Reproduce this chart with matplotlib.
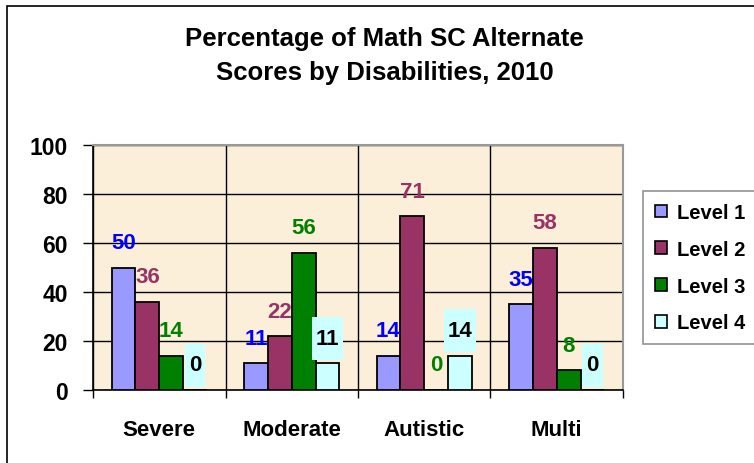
import matplotlib
matplotlib.use("Agg")
import matplotlib.pyplot as plt
import numpy as np
from matplotlib.path import Path
from matplotlib.patches import Rectangle, Patch

categories = ["Severe", "Moderate", "Autistic", "Multi"]
level1 = [50, 11, 14, 35]
level2 = [36, 22, 71, 58]
level3 = [14, 56, 0, 8]
level4 = [0, 11, 14, 0]
series_names = ["Level 1", "Level 2", "Level 3", "Level 4"]
yticks = [0, 20, 40, 60, 80, 100]
title = "Percentage of Math SC Alternate\nScores by Disabilities, 2010"

bar_colors = ["#9999FF", "#993366", "#008000", "#CCFFFF"]
label_colors = ["#0000FF", "#993366", "#008000", "#000000"]

plt.rcParams['font.family'] = ['Liberation Sans', 'DejaVu Sans']
plt.rcParams['font.weight'] = 'bold'

fig = plt.figure(figsize=(7.54, 4.64), dpi=100)
fig.patch.set_facecolor('white')
# outer chart border
fig.patches.append(Rectangle((7/754, -0.1), 1.2, 1 - 7/464 + 0.1, transform=fig.transFigure,
                             fill=False, edgecolor='black', linewidth=1.2))

ax = fig.add_axes([93/754, 1 - 391/464, (623 - 93)/754, (391 - 146)/464])
ax.set_facecolor('#FBEFD9')

x = np.arange(len(categories))
w = 0.18
data = [level1, level2, level3, level4]
offsets = [-1.5, -0.5, 0.5, 1.5]

def tallbox(x0, y0, width, height, mutation_size):
    padx = 4.0
    pady = 11.0
    xa, ya = x0 - padx, y0 - pady
    xb, yb = x0 + width + padx, y0 + height + pady
    return Path([(xa, ya), (xb, ya), (xb, yb), (xa, yb), (xa, ya)],
                [Path.MOVETO, Path.LINETO, Path.LINETO, Path.LINETO, Path.CLOSEPOLY])

for i, vals in enumerate(data):
    xs = x + offsets[i] * w
    ax.bar(xs, vals, width=w, color=bar_colors[i], edgecolor='black', linewidth=1.3, zorder=3)
    for xi, v in zip(xs, vals):
        kw = {}
        if i == 3:
            kw['bbox'] = dict(boxstyle=tallbox, facecolor='#CCFFFF', edgecolor='none')
        ax.annotate(f"{v}", (xi, v), xytext=(0, 25), textcoords='offset pixels',
                    ha='center', va='center', fontsize=16, fontweight='bold',
                    color=label_colors[i], zorder=5, **kw)

ax.set_xlim(-0.5, len(categories) - 0.5)
ax.set_ylim(0, 100)
ax.set_yticks(yticks)
ax.set_yticklabels([str(t) for t in yticks], fontsize=16.5, fontweight='bold')
ax.set_xticks(x)
ax.set_xticklabels(categories, fontsize=16, fontweight='bold')
ax.tick_params(axis='x', length=0, pad=21)
ax.set_xticks(np.arange(-0.5, len(categories)), minor=True)
ax.tick_params(axis='x', which='minor', length=6, width=1, direction='out')
ax.tick_params(axis='y', length=7, width=1, direction='out', pad=11)

ax.grid(axis='y', color='black', linewidth=1, zorder=1)
ax.grid(axis='x', which='minor', color='black', linewidth=1, zorder=1)
ax.set_axisbelow(True)

for s in ['top', 'right']:
    ax.spines[s].set_color('#999999')
    ax.spines[s].set_linewidth(1.5)
for s in ['left', 'bottom']:
    ax.spines[s].set_color('black')
    ax.spines[s].set_linewidth(1.2)

fig.text(0.51, 1 - 56/464, title, ha='center', va='center', fontsize=18.5,
         fontweight='bold', linespacing=1.5)

handles = [Patch(facecolor=c, edgecolor='black', linewidth=1.2) for c in bar_colors]
leg = fig.legend(handles, series_names, loc='upper left',
                 bbox_to_anchor=(643/754, 1 - 192/464),
                 prop={'weight': 'bold', 'size': 14.5},
                 frameon=True, fancybox=False, handlelength=0.6, handleheight=0.6,
                 handletextpad=0.5, labelspacing=0.88, borderpad=0.6, borderaxespad=0)
leg.get_frame().set_edgecolor('#777777')
leg.get_frame().set_linewidth(1.2)

fig.savefig("out.png", dpi=100)
